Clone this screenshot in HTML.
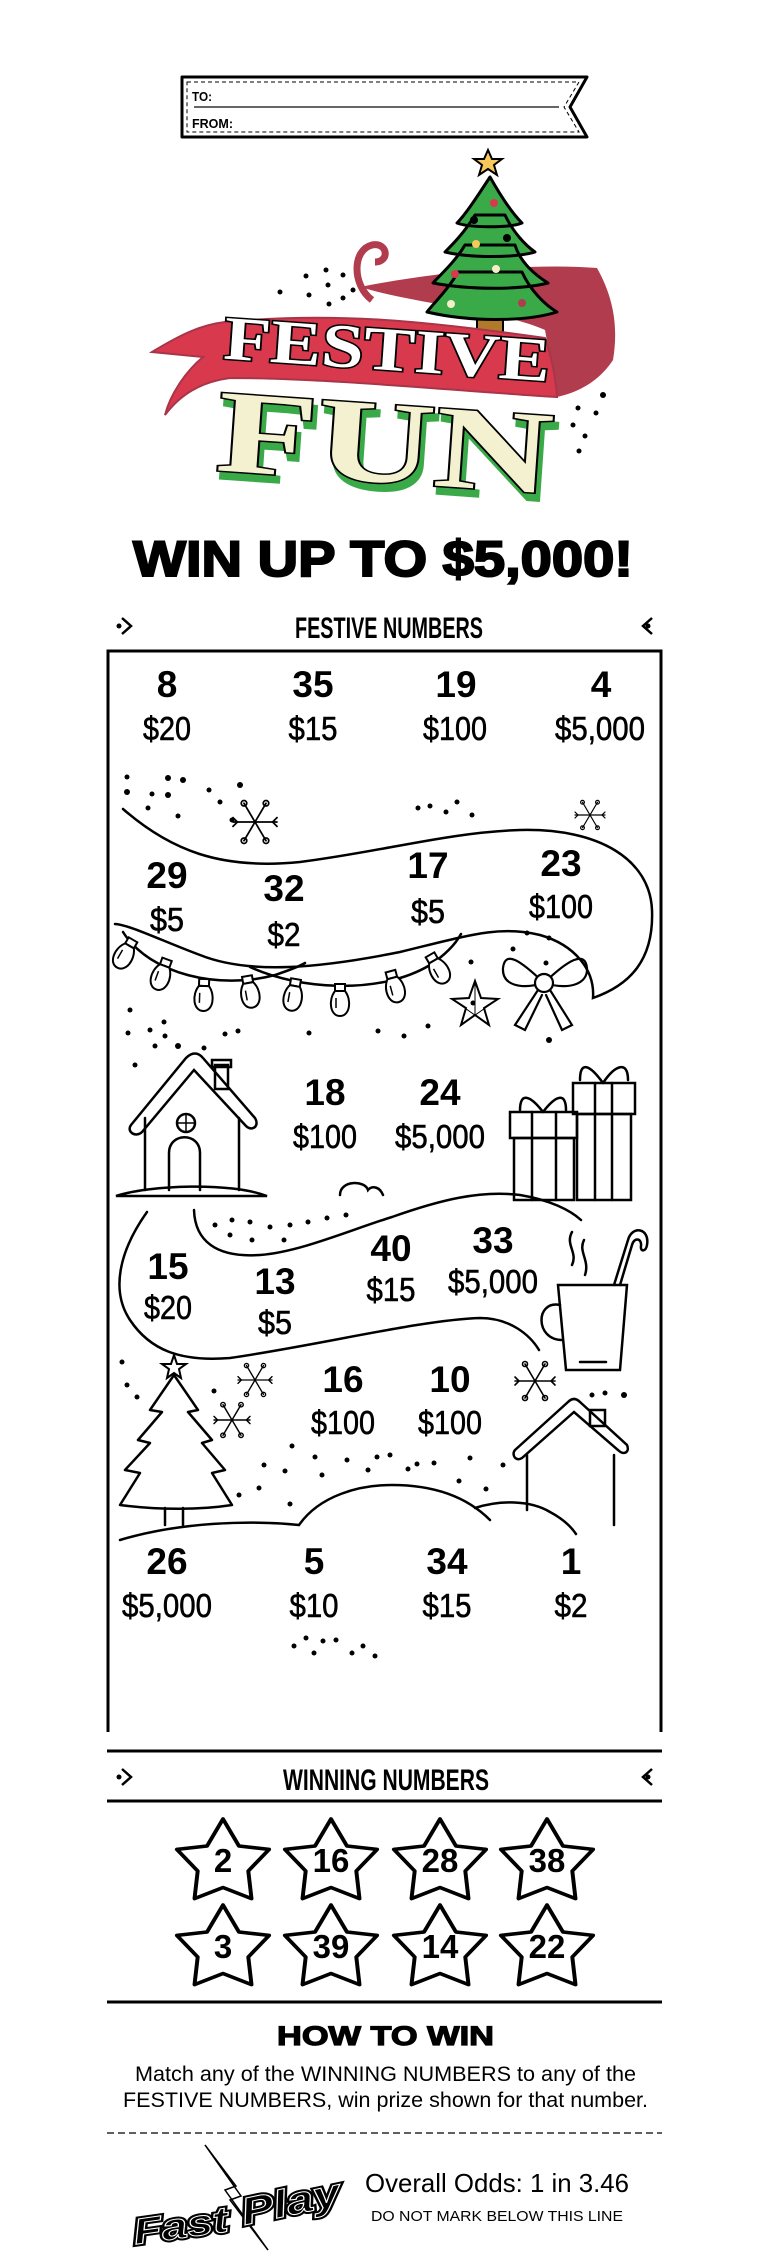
<!DOCTYPE html>
<html><head><meta charset="utf-8"><style>
html,body{margin:0;padding:0;background:#fff;}
svg{display:block;}
</style></head><body>
<svg width="769" height="2251" viewBox="0 0 769 2251" xmlns="http://www.w3.org/2000/svg" font-family="Liberation Sans, sans-serif">
<defs>
<g id="sf" stroke="#000" stroke-width="1.6" fill="none" stroke-linecap="round">
<line x1="-20" y1="0" x2="20" y2="0"/><line x1="-10" y1="-17" x2="10" y2="17"/><line x1="-10" y1="17" x2="10" y2="-17"/>
<circle cx="-10" cy="-17" r="2.5"/><circle cx="10" cy="17" r="2.5"/><circle cx="10" cy="-17" r="2.5"/><circle cx="-10" cy="17" r="2.5"/>
<path d="M-20,-4 L-16,0 L-20,4 M20,-4 L16,0 L20,4"/>
</g>
<g id="bulb" stroke="#000" stroke-width="2" fill="#fff">
<rect x="-5" y="-6" width="10" height="7"/>
<path d="M-5,1 C-12,10 -10,26 0,26 C10,26 12,10 5,1 Z"/>
<line x1="-4" y1="8" x2="-4" y2="18" stroke-width="1.5"/>
</g>
<polygon id="wst" points="0,-44 14.5,-17 41.9,-13.6 23,8 25.9,35.6 0,24.5 -25.9,35.6 -23,8 -41.9,-13.6 -14.5,-17" fill="#fff" stroke="#000" stroke-width="3.6" stroke-linejoin="round"/>
</defs>

<!-- gift tag -->
<polygon points="182,77 587,77 570,107 587,137 182,137" fill="#fff" stroke="#000" stroke-width="3" stroke-linejoin="round"/>
<polygon points="187,82 579,82 564,107 579,132 187,132" fill="none" stroke="#000" stroke-width="1" stroke-dasharray="4,3"/>
<line x1="194" y1="107" x2="559" y2="107" stroke="#333" stroke-width="1.5"/>
<text x="192" y="101" font-size="13" font-weight="bold" textLength="20" lengthAdjust="spacingAndGlyphs">TO:</text>
<text x="192" y="128" font-size="13" font-weight="bold" textLength="41" lengthAdjust="spacingAndGlyphs">FROM:</text>

<!-- logo ribbon back -->
<path d="M360,287 C420,275 520,262 597,268 C615,300 618,330 613,360 C600,380 580,392 557,397 L545,330 C500,310 420,305 360,287 Z" fill="#b13c4d"/>
<path d="M372,300 C352,285 352,250 372,245 C388,242 390,262 375,262" fill="none" stroke="#b13c4d" stroke-width="7"/>
<!-- tree -->
<rect x="477" y="312" width="26" height="20" fill="#b07a2a" stroke="#000" stroke-width="2"/>
<path d="M490,177 C475,200 465,215 457,223 C470,228 510,228 522,223 C514,215 503,200 490,177 Z
M475,215 C465,232 452,245 445,252 C470,258 515,258 535,252 C525,245 513,232 505,215 Z
M465,245 C455,262 440,275 433,283 C470,290 520,290 548,283 C535,275 520,262 515,245 Z
M458,272 C448,290 432,305 427,312 C470,322 525,322 557,312 C545,305 530,290 522,272 Z" fill="#3aaa48" stroke="#000" stroke-width="3" stroke-linejoin="round"/>
<polygon points="488,150 492,159 502,159 494,165 497,175 488,169 479,175 482,165 474,159 484,159" fill="#f7c85c" stroke="#000" stroke-width="2"/>
<circle cx="494" cy="203" r="4" fill="#d8394d"/><circle cx="474" cy="220" r="4" fill="#000"/><circle cx="476" cy="244" r="4" fill="#f7c85c"/><circle cx="507" cy="238" r="4" fill="#000"/><circle cx="496" cy="269" r="4" fill="#f5efc8"/><circle cx="455" cy="274" r="4" fill="#d8394d"/><circle cx="451" cy="304" r="4" fill="#f5efc8"/><circle cx="522" cy="303" r="4" fill="#b13c4d"/>
<!-- ribbon front -->
<path d="M152,352 C180,335 200,325 225,322 C330,312 420,320 545,338 C552,358 556,380 557,397 C470,392 330,378 230,378 C200,382 180,395 165,415 C170,395 185,372 203,357 Z" fill="#d8394d" stroke="#a8354a" stroke-width="2"/>
<text x="223" y="370" font-family="Liberation Serif, serif" font-weight="bold" font-size="62" textLength="327" lengthAdjust="spacingAndGlyphs" fill="#fff" stroke="#000" stroke-width="3" paint-order="stroke" transform="rotate(4 388 360)">FESTIVE</text>
<g transform="rotate(4 385 440)" font-family="Liberation Serif, serif" font-weight="bold" font-size="118">
<text x="221" y="489" textLength="336" lengthAdjust="spacingAndGlyphs" fill="#3aaa48" stroke="#3aaa48" stroke-width="4">FUN</text>
<text x="217" y="482" textLength="336" lengthAdjust="spacingAndGlyphs" fill="#f3f1cf" stroke="#000" stroke-width="3" paint-order="stroke">FUN</text>
</g>
<g fill="#000"><circle cx="306" cy="276" r="2.5"/><circle cx="326" cy="270" r="2.5"/><circle cx="343" cy="275" r="2.5"/><circle cx="328" cy="285" r="2.5"/><circle cx="309" cy="295" r="2.5"/><circle cx="343" cy="298" r="2.5"/><circle cx="329" cy="304" r="2.5"/><circle cx="280" cy="292" r="2.5"/><circle cx="353" cy="290" r="2.5"/>
<circle cx="603" cy="395" r="3"/><circle cx="578" cy="408" r="2.5"/><circle cx="596" cy="413" r="2.5"/><circle cx="573" cy="425" r="2.5"/><circle cx="585" cy="436" r="2.5"/><circle cx="579" cy="451" r="2.5"/></g>

<text x="133" y="576" font-size="50" font-weight="900" textLength="500" lengthAdjust="spacingAndGlyphs" stroke="#000" stroke-width="2">WIN UP TO $5,000!</text>

<!-- festive numbers header -->
<text x="295" y="638" font-size="30" font-weight="bold" textLength="188" lengthAdjust="spacingAndGlyphs">FESTIVE NUMBERS</text>
<g fill="none" stroke="#000" stroke-width="2.5"><path d="M122,618 L131,626 L122,634"/><path d="M652,618 L643,626 L652,634"/></g>
<circle cx="119" cy="626" r="2.5"/><circle cx="648" cy="626" r="2.5"/>
<path d="M108,1732 L108,651 L661,651 L661,1732" fill="none" stroke="#000" stroke-width="3"/>

<!-- scene line art -->
<g fill="none" stroke="#000" stroke-width="2.5" stroke-linecap="round">
<path d="M123,809 C170,850 220,870 300,862 C380,852 450,832 520,830 C600,828 650,860 652,910 C654,960 630,985 593,998 C595,970 575,945 540,935 C500,925 470,935 400,952 C320,968 250,975 200,955 C160,940 130,925 115,924"/>
<path d="M123,932 C150,975 220,990 275,975 C290,970 300,966 305,963"/>
<path d="M250,967 C300,990 380,995 430,965 C445,955 455,945 461,934"/>
<polygon points="475,981 481,998 498,999 484,1008 489,1025 475,1015 461,1025 466,1008 452,999 469,998" stroke-width="2"/>
<path d="M475,981 L475,1015 M452,999 L489,1025 M498,999 L461,1025" stroke-width="1"/>
<path d="M544,983 C520,960 505,950 503,968 C502,985 520,990 544,983 C568,960 585,950 587,968 C588,985 568,990 544,983 Z" stroke-width="2.2"/>
<circle cx="544" cy="983" r="9" fill="#fff" stroke-width="2.2"/>
<path d="M538,990 L515,1025 L525,1030 L542,995 M550,990 L572,1025 L562,1030 L546,995" stroke-width="2.2"/>
<path d="M116,1196 C150,1185 230,1182 267,1196 Z" stroke-width="2.5"/>
<path d="M145,1190 L145,1118 M239,1190 L239,1118"/>
<path d="M131,1125 L186,1058 C192,1052 198,1052 203,1058 L255,1118 C260,1126 252,1132 246,1126 L194,1070 L142,1132 C136,1138 126,1132 131,1125 Z"/>
<rect x="215" y="1065" width="13" height="24"/><rect x="212" y="1060" width="19" height="7"/>
<path d="M169,1190 L169,1153 C169,1132 200,1132 200,1153 L200,1190"/>
<circle cx="186" cy="1123" r="9"/><path d="M177,1123 L195,1123 M186,1114 L186,1132" stroke-width="1.5"/>
<path d="M340,1195 C340,1180 365,1180 368,1190 C372,1185 380,1187 383,1195"/>
<rect x="573" y="1083" width="62" height="31"/><rect x="577" y="1114" width="54" height="86"/>
<path d="M595,1083 L595,1200 M612,1083 L612,1200"/>
<path d="M603,1083 C590,1065 580,1060 580,1080 M603,1083 C615,1065 628,1060 628,1080"/>
<rect x="510" y="1112" width="67" height="26"/><rect x="514" y="1138" width="60" height="62"/>
<path d="M532,1112 L532,1200 M556,1112 L556,1200"/>
<path d="M543,1112 C530,1095 520,1092 520,1110 M543,1112 C556,1095 566,1092 566,1110"/>
<path d="M147,1212 C120,1250 110,1290 130,1320 C150,1350 180,1362 230,1358 C320,1345 420,1320 480,1318 C510,1318 530,1335 539,1350"/>
<path d="M194,1210 C195,1240 215,1258 260,1255 C300,1252 350,1230 392,1217 C440,1200 480,1190 520,1195 C550,1200 570,1210 581,1220"/>
<path d="M558,1285 L627,1285 L620,1370 L566,1370 Z"/>
<path d="M560,1305 C535,1300 535,1340 562,1340" />
<path d="M580,1362 L606,1362"/>
<path d="M614,1285 L628,1240 C632,1225 650,1228 647,1245 C646,1252 640,1252 641,1246 C642,1238 634,1237 632,1245 L620,1285"/>
<path d="M572,1232 C565,1245 578,1252 572,1265 M584,1240 C578,1252 590,1260 585,1275"/>
<path d="M174,1375 L150,1410 L162,1412 L138,1440 L150,1443 L125,1470 L140,1473 L120,1505 C160,1510 200,1510 232,1505 L212,1473 L225,1470 L202,1443 L212,1440 L188,1412 L198,1410 Z" stroke-width="2.5" stroke-linejoin="round"/>
<path d="M165,1508 L165,1525 M183,1508 L183,1525"/>
<polygon points="174,1355 177,1364 186,1364 179,1369 181,1378 174,1373 167,1378 169,1369 162,1364 171,1364" stroke-width="2"/>
<path d="M120,1540 C180,1522 250,1520 299,1525 C320,1495 360,1485 392,1485 C440,1485 470,1500 490,1520"/>
<path d="M475,1508 C500,1500 530,1500 550,1512 C565,1520 572,1528 576,1534"/>
<path d="M527,1510 L527,1455 M614,1525 L614,1455"/>
<path d="M515,1450 L568,1402 C572,1398 576,1398 580,1402 L627,1445 C630,1452 624,1456 618,1450 L574,1412 L522,1458 C516,1462 511,1455 515,1450 Z"/>
<rect x="590" y="1410" width="15" height="16"/>
</g>
<g>
<use href="#bulb" transform="translate(130,945) rotate(30)"/><use href="#bulb" transform="translate(165,965) rotate(20)"/>
<use href="#bulb" transform="translate(204,985) rotate(2)"/><use href="#bulb" transform="translate(248,982) rotate(-10)"/>
<use href="#bulb" transform="translate(295,985) rotate(10)"/><use href="#bulb" transform="translate(340,990) rotate(0)"/>
<use href="#bulb" transform="translate(392,977) rotate(-15)"/><use href="#bulb" transform="translate(433,960) rotate(-30)"/>
</g>
<use href="#sf" transform="translate(255,822) scale(1.1)"/>
<use href="#sf" transform="translate(590,815) scale(0.75)"/>
<use href="#sf" transform="translate(255,1380) scale(0.85)"/>
<use href="#sf" transform="translate(232,1420) scale(0.9)"/>
<use href="#sf" transform="translate(535,1381) scale(1)"/>
<g fill="#000">
<circle cx="127" cy="777" r="2.5"/><circle cx="127" cy="792" r="3"/><circle cx="152" cy="794" r="2.5"/><circle cx="168" cy="795" r="3"/><circle cx="148" cy="808" r="2.5"/><circle cx="183" cy="780" r="3"/><circle cx="168" cy="778" r="3"/><circle cx="209" cy="790" r="2.5"/><circle cx="220" cy="802" r="2.5"/><circle cx="178" cy="816" r="2.5"/><circle cx="232" cy="820" r="2.5"/><circle cx="240" cy="785" r="3"/>
<circle cx="418" cy="808" r="2.5"/><circle cx="430" cy="806" r="2.5"/><circle cx="446" cy="812" r="2.5"/><circle cx="457" cy="802" r="2.5"/><circle cx="472" cy="815" r="2.5"/>
<circle cx="130" cy="1010" r="2.5"/><circle cx="164" cy="1022" r="2.5"/><circle cx="128" cy="1033" r="2.5"/><circle cx="150" cy="1030" r="2.5"/><circle cx="165" cy="1036" r="2.5"/><circle cx="225" cy="1034" r="2.5"/><circle cx="238" cy="1031" r="2.5"/><circle cx="178" cy="1046" r="3"/><circle cx="204" cy="1048" r="2.5"/><circle cx="135" cy="1065" r="2.5"/><circle cx="155" cy="1046" r="2.5"/>
<circle cx="309" cy="1033" r="2.5"/><circle cx="378" cy="1031" r="2.5"/><circle cx="404" cy="1036" r="2.5"/><circle cx="428" cy="1026" r="2.5"/><circle cx="471" cy="962" r="2.5"/><circle cx="473" cy="1003" r="2.5"/><circle cx="513" cy="949" r="2.5"/><circle cx="527" cy="933" r="2.5"/><circle cx="549" cy="938" r="2.5"/><circle cx="546" cy="963" r="2.5"/><circle cx="549" cy="1040" r="3"/>
<circle cx="215" cy="1225" r="2.5"/><circle cx="232" cy="1220" r="2.5"/><circle cx="250" cy="1222" r="2.5"/><circle cx="270" cy="1227" r="2.5"/><circle cx="290" cy="1225" r="2.5"/><circle cx="308" cy="1222" r="2.5"/><circle cx="327" cy="1218" r="2.5"/><circle cx="346" cy="1215" r="2.5"/><circle cx="230" cy="1235" r="2.5"/><circle cx="252" cy="1240" r="2.5"/><circle cx="284" cy="1240" r="2.5"/>
<circle cx="122" cy="1362" r="2.5"/><circle cx="127" cy="1385" r="2.5"/><circle cx="137" cy="1397" r="2.5"/><circle cx="214" cy="1391" r="2.5"/><circle cx="292" cy="1446" r="2.5"/><circle cx="315" cy="1457" r="2.5"/><circle cx="347" cy="1460" r="2.5"/><circle cx="377" cy="1457" r="2.5"/><circle cx="390" cy="1455" r="2.5"/><circle cx="417" cy="1464" r="2.5"/><circle cx="434" cy="1463" r="2.5"/><circle cx="470" cy="1458" r="2.5"/><circle cx="503" cy="1465" r="2.5"/><circle cx="264" cy="1465" r="2.5"/><circle cx="285" cy="1471" r="2.5"/><circle cx="322" cy="1475" r="2.5"/><circle cx="368" cy="1470" r="2.5"/><circle cx="408" cy="1469" r="2.5"/><circle cx="459" cy="1481" r="2.5"/><circle cx="486" cy="1489" r="2.5"/><circle cx="259" cy="1488" r="2.5"/><circle cx="290" cy="1504" r="2.5"/><circle cx="239" cy="1495" r="2.5"/>
<circle cx="592" cy="1395" r="2.5"/><circle cx="605" cy="1393" r="2.5"/><circle cx="624" cy="1395" r="3"/>
<circle cx="294" cy="1646" r="2.5"/><circle cx="306" cy="1638" r="2.5"/><circle cx="314" cy="1653" r="2.5"/><circle cx="323" cy="1641" r="2.5"/><circle cx="336" cy="1640" r="2.5"/><circle cx="352" cy="1653" r="2.5"/><circle cx="363" cy="1646" r="2.5"/><circle cx="375" cy="1656" r="2.5"/>
</g>

<g font-weight="bold" font-size="37" text-anchor="middle">
<text x="167" y="697">8</text><text x="313" y="697">35</text><text x="456" y="697">19</text><text x="601" y="697">4</text>
<text x="167" y="888">29</text><text x="284" y="901">32</text><text x="428" y="878">17</text><text x="561" y="876">23</text>
<text x="325" y="1105">18</text><text x="440" y="1105">24</text>
<text x="168" y="1279">15</text><text x="275" y="1294">13</text><text x="391" y="1261">40</text><text x="493" y="1253">33</text>
<text x="343" y="1392">16</text><text x="450" y="1392">10</text>
<text x="167" y="1574">26</text><text x="314" y="1574">5</text><text x="447" y="1574">34</text><text x="571" y="1574">1</text>
</g>
<g font-size="33" text-anchor="middle" stroke="#000" stroke-width="0.6">
<text x="167" y="740" textLength="48" lengthAdjust="spacingAndGlyphs">$20</text><text x="313" y="740" textLength="49" lengthAdjust="spacingAndGlyphs">$15</text><text x="455" y="740" textLength="64" lengthAdjust="spacingAndGlyphs">$100</text><text x="600" y="740" textLength="90" lengthAdjust="spacingAndGlyphs">$5,000</text>
<text x="167" y="931" textLength="34" lengthAdjust="spacingAndGlyphs">$5</text><text x="284" y="946" textLength="33" lengthAdjust="spacingAndGlyphs">$2</text><text x="428" y="923" textLength="34" lengthAdjust="spacingAndGlyphs">$5</text><text x="561" y="918" textLength="64" lengthAdjust="spacingAndGlyphs">$100</text>
<text x="325" y="1148" textLength="64" lengthAdjust="spacingAndGlyphs">$100</text><text x="440" y="1148" textLength="90" lengthAdjust="spacingAndGlyphs">$5,000</text>
<text x="168" y="1319" textLength="48" lengthAdjust="spacingAndGlyphs">$20</text><text x="275" y="1334" textLength="34" lengthAdjust="spacingAndGlyphs">$5</text><text x="391" y="1301" textLength="49" lengthAdjust="spacingAndGlyphs">$15</text><text x="493" y="1293" textLength="90" lengthAdjust="spacingAndGlyphs">$5,000</text>
<text x="343" y="1434" textLength="64" lengthAdjust="spacingAndGlyphs">$100</text><text x="450" y="1434" textLength="64" lengthAdjust="spacingAndGlyphs">$100</text>
<text x="167" y="1617" textLength="90" lengthAdjust="spacingAndGlyphs">$5,000</text><text x="314" y="1617" textLength="49" lengthAdjust="spacingAndGlyphs">$10</text><text x="447" y="1617" textLength="49" lengthAdjust="spacingAndGlyphs">$15</text><text x="571" y="1617" textLength="33" lengthAdjust="spacingAndGlyphs">$2</text>
</g>

<line x1="107" y1="1751" x2="662" y2="1751" stroke="#000" stroke-width="3"/>
<line x1="107" y1="1801" x2="662" y2="1801" stroke="#000" stroke-width="3"/>
<text x="283" y="1790" font-size="30" font-weight="bold" textLength="206" lengthAdjust="spacingAndGlyphs">WINNING NUMBERS</text>
<g fill="none" stroke="#000" stroke-width="2.5"><path d="M122,1769 L131,1777 L122,1785"/><path d="M652,1769 L643,1777 L652,1785"/></g>
<circle cx="119" cy="1777" r="2.5"/><circle cx="648" cy="1777" r="2.5"/>
<use href="#wst" transform="translate(223,1863) scale(1.1 1)"/><use href="#wst" transform="translate(331,1863) scale(1.1 1)"/><use href="#wst" transform="translate(440,1863) scale(1.1 1)"/><use href="#wst" transform="translate(547,1863) scale(1.1 1)"/>
<use href="#wst" transform="translate(223,1949) scale(1.1 1)"/><use href="#wst" transform="translate(331,1949) scale(1.1 1)"/><use href="#wst" transform="translate(440,1949) scale(1.1 1)"/><use href="#wst" transform="translate(547,1949) scale(1.1 1)"/>
<g font-size="33" font-weight="bold" text-anchor="middle">
<text x="223" y="1872">2</text><text x="331" y="1872">16</text><text x="440" y="1872">28</text><text x="547" y="1872">38</text>
<text x="223" y="1958">3</text><text x="331" y="1958">39</text><text x="440" y="1958">14</text><text x="547" y="1958">22</text>
</g>
<line x1="107" y1="2002" x2="662" y2="2002" stroke="#000" stroke-width="3"/>
<text x="277" y="2045" font-size="27" font-weight="900" textLength="217" lengthAdjust="spacingAndGlyphs" stroke="#000" stroke-width="1.2">HOW TO WIN</text>
<text x="135" y="2081" font-size="21" textLength="501" lengthAdjust="spacingAndGlyphs">Match any of the WINNING NUMBERS to any of the</text>
<text x="123" y="2107" font-size="21" textLength="525" lengthAdjust="spacingAndGlyphs">FESTIVE NUMBERS, win prize shown for that number.</text>
<line x1="107" y1="2133" x2="662" y2="2133" stroke="#000" stroke-width="1.2" stroke-dasharray="7,4"/>

<path d="M205,2145 L236,2186 L225,2190 L268,2250 L230,2200 L241,2196 Z" fill="#fff" stroke="#000" stroke-width="1.5"/>
<text x="133" y="2238" font-size="36" font-weight="900" font-style="italic" textLength="95" lengthAdjust="spacingAndGlyphs" fill="#000" stroke="#000" stroke-width="5" transform="rotate(-8 180 2225)">Fast</text>
<text x="133" y="2238" font-size="36" font-weight="900" font-style="italic" textLength="95" lengthAdjust="spacingAndGlyphs" fill="#000" stroke="#fff" stroke-width="1" transform="rotate(-8 180 2225)">Fast</text>
<text x="240" y="2215" font-size="38" font-weight="900" font-style="italic" textLength="100" lengthAdjust="spacingAndGlyphs" fill="#000" stroke="#000" stroke-width="5" transform="rotate(-12 290 2200)">Play</text>
<text x="240" y="2215" font-size="38" font-weight="900" font-style="italic" textLength="100" lengthAdjust="spacingAndGlyphs" fill="#000" stroke="#fff" stroke-width="1" transform="rotate(-12 290 2200)">Play</text>

<text x="365" y="2192" font-size="26" textLength="264" lengthAdjust="spacingAndGlyphs">Overall Odds: 1 in 3.46</text>
<text x="371" y="2221" font-size="15" textLength="252" lengthAdjust="spacingAndGlyphs">DO NOT MARK BELOW THIS LINE</text>
</svg>
</body></html>
